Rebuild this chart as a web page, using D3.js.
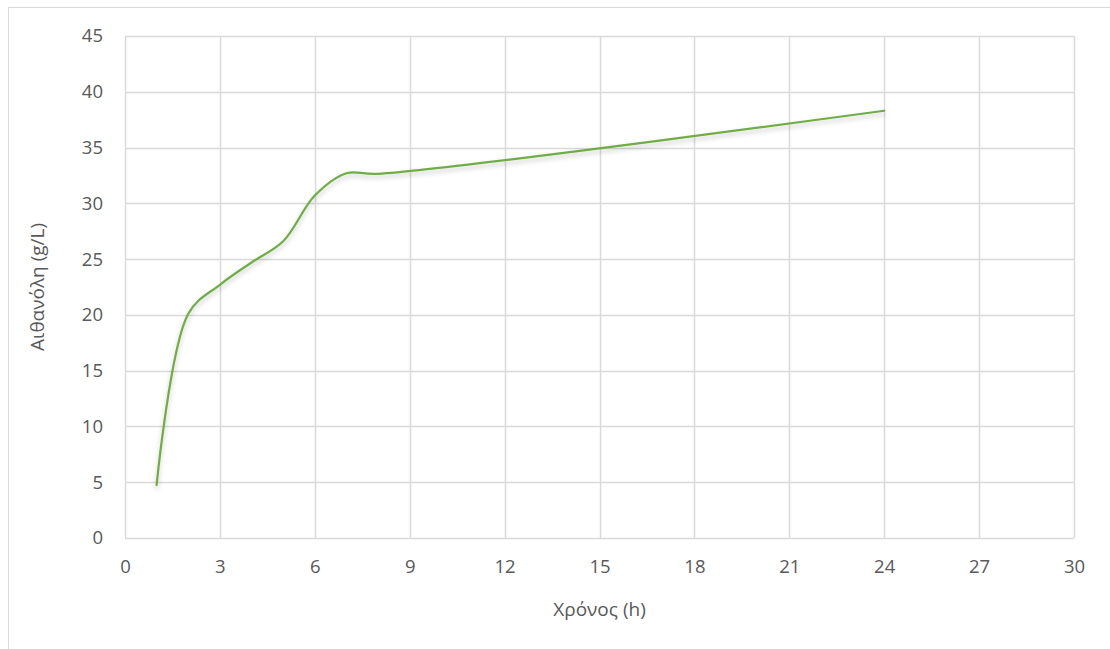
<!DOCTYPE html>
<html>
<head>
<meta charset="utf-8">
<script src="https://cdn.jsdelivr.net/npm/d3@7"></script>
<style>
  html, body { margin: 0; padding: 0; background: #fff; }
  svg { display: block; font-family: "Open Sans", "Noto Sans", sans-serif; }
</style>
</head>
<body>
<svg id="chart" width="1110" height="649"></svg>
<script>
// Data
const timeHours = [1, 2, 3, 4, 5, 6, 7, 8, 24];
const ethanolGL = [4.75, 20.1, 22.7, 24.7, 26.6, 30.7, 32.7, 32.65, 38.3];
const xTicks = [0, 3, 6, 9, 12, 15, 18, 21, 24, 27, 30];
const yTicks = [0, 5, 10, 15, 20, 25, 30, 35, 40, 45];
const xTitle = "Χρόνος (h)";
const yTitle = "Αιθανόλη (g/L)";

const svg = d3.select("#chart");
const W = 1110, H = 649;
const margin = { left: 125, right: 1110 - 1074, top: 36, bottom: 649 - 538 };
const FONT = "'Open Sans', 'Noto Sans', sans-serif";

// outer chart border (extends beyond picture right/bottom)
svg.append("rect")
  .attr("x", 8.5).attr("y", 7.5)
  .attr("width", W + 10).attr("height", H + 10)
  .attr("fill", "#fff").attr("stroke", "#d9d9d9").attr("stroke-width", 1);

const x = d3.scaleLinear().domain([0, 30]).range([margin.left, W - margin.right]);
const y = d3.scaleLinear().domain([0, 45]).range([H - margin.bottom, margin.top]);

const grid = svg.append("g");
grid.selectAll("line.v").data(xTicks).join("line")
  .attr("x1", d => Math.round(x(d)) + 0.5).attr("x2", d => Math.round(x(d)) + 0.5)
  .attr("y1", y(0)).attr("y2", y(45))
  .attr("stroke", "#d9d9d9").attr("stroke-width", 1.5);
grid.selectAll("line.h").data(yTicks).join("line")
  .attr("y1", d => Math.round(y(d)) + 0.5).attr("y2", d => Math.round(y(d)) + 0.5)
  .attr("x1", x(0)).attr("x2", x(30))
  .attr("stroke", "#d9d9d9").attr("stroke-width", 1.5);

// axes with d3 axis generators (labels only)
const xAxis = svg.append("g")
  .attr("transform", `translate(0,${y(0)})`)
  .call(d3.axisBottom(x).tickValues(xTicks).tickSize(0).tickPadding(22).tickFormat(d3.format("d")));
xAxis.select(".domain").remove();
xAxis.selectAll("text").attr("fill", "#595959").style("font-size", "18.5px").style("font-family", FONT);

const yAxis = svg.append("g")
  .attr("transform", `translate(${x(0)},0)`)
  .call(d3.axisLeft(y).tickValues(yTicks).tickSize(0).tickPadding(22).tickFormat(d3.format("d")));
yAxis.select(".domain").remove();
yAxis.selectAll("text").attr("fill", "#595959").style("font-size", "18.5px").style("font-family", FONT);

// drop shadow
const defs = svg.append("defs");
const f = defs.append("filter").attr("id", "shadow")
  .attr("x", "-5%").attr("y", "-5%").attr("width", "110%").attr("height", "120%");
f.append("feDropShadow").attr("dx", 0).attr("dy", 3).attr("stdDeviation", 2.5)
  .attr("flood-color", "#000").attr("flood-opacity", 0.22);

const data = timeHours.map((t, i) => [t, ethanolGL[i]]);
const line = d3.line().x(d => x(d[0])).y(d => y(d[1])).curve(d3.curveCatmullRom.alpha(0.5));
svg.append("path").datum(data)
  .attr("d", line)
  .attr("fill", "none")
  .attr("stroke", "#70ad47")
  .attr("stroke-width", 2.25)
  .attr("stroke-linecap", "round")
  .attr("filter", "url(#shadow)");

// axis titles
svg.append("text")
  .attr("x", (x(0) + x(30)) / 2).attr("y", 616)
  .attr("text-anchor", "middle").attr("fill", "#595959")
  .style("font-size", "19px").style("font-family", FONT).text(xTitle);
svg.append("text")
  .attr("transform", `translate(44,${(y(0) + y(45)) / 2}) rotate(-90)`)
  .attr("text-anchor", "middle").attr("fill", "#595959")
  .style("font-size", "19px").style("font-family", FONT).text(yTitle);
</script>
</body>
</html>
